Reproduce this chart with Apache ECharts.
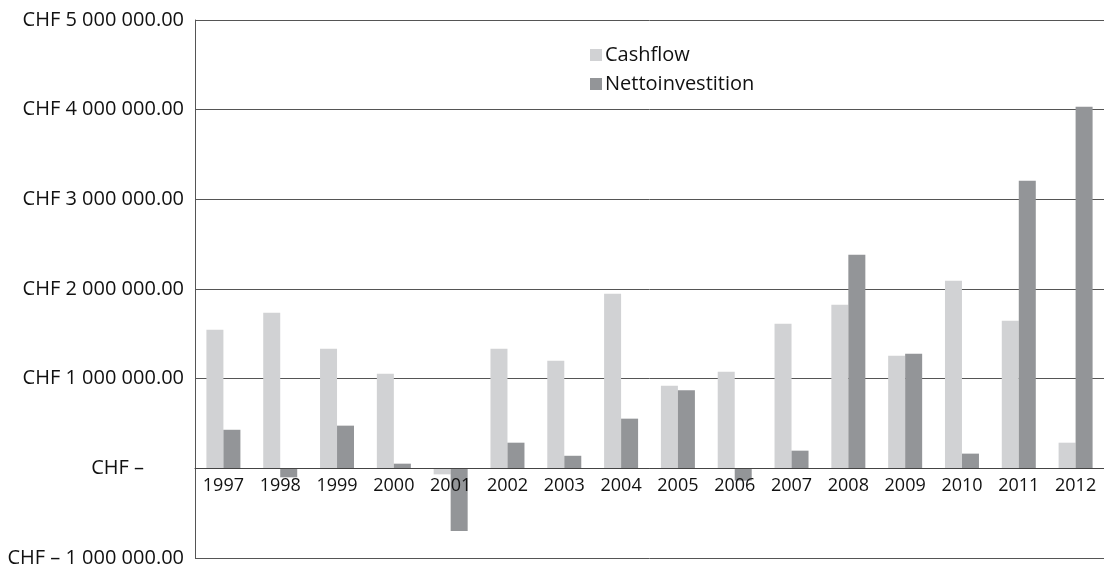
<!DOCTYPE html>
<html>
<head>
<meta charset="utf-8">
<script src="https://cdn.jsdelivr.net/npm/echarts@6/dist/echarts.min.js"></script>
<style>
html,body{margin:0;padding:0;background:#fff;}
#chart{width:1104px;height:566px;}
</style>
</head>
<body>
<div id="chart"></div>
<script>
const years = ['1997','1998','1999','2000','2001','2002','2003','2004','2005','2006','2007','2008','2009','2010','2011','2012'];
const cashflow = [1546000, 1736000, 1334000, 1056000, -67000, 1334000, 1200000, 1947000, 922000, 1078000, 1613000, 1825000, 1256000, 2093000, 1647000, 286000];
const nettoinvestition = [430000, -100000, 476000, 52000, -700000, 286000, 140000, 554000, 870000, -137000, 197000, 2382000, 1279000, 164000, 3207000, 4032000];
const seriesNames = ['Cashflow', 'Nettoinvestition'];
const yMin = -1000000, yMax = 5000000, yStep = 1000000;

function fmtCHF(v) {
  if (v === 0) return '{z|CHF –}';
  const neg = v < 0;
  const s = Math.abs(v).toFixed(0).replace(/\B(?=(\d{3})+(?!\d))/g, ' ') + '.00';
  return 'CHF ' + (neg ? '– ' : '') + s;
}

const FONT = '"Open Sans", "Noto Sans", sans-serif';
const gridTop = 20, gridBottom = 8, H = 566;
const plotH = H - gridTop - gridBottom;
const zeroOffset = plotH * (0 - yMin) / (yMax - yMin);

const chart = echarts.init(document.getElementById('chart'), null, {renderer: 'canvas'});
chart.setOption({
  animation: false,
  backgroundColor: '#fff',
  textStyle: {fontFamily: FONT, color: '#111'},
  grid: {left: 195, right: 0, top: gridTop, bottom: gridBottom, containLabel: false, outerBoundsMode: 'none'},
  legend: {
    orient: 'vertical',
    left: 585, top: 40,
    itemWidth: 12, itemHeight: 12, itemGap: 9,
    icon: 'rect',
    textStyle: {fontFamily: FONT, fontSize: 20, color: '#111', padding: [0,0,0,-2]},
    data: seriesNames
  },
  xAxis: {
    type: 'category',
    data: years,
    position: 'bottom',
    offset: -zeroOffset,
    z: 5,
    axisLine: {onZero: false, lineStyle: {color: '#444', width: 1}},
    axisTick: {show: false},
    axisLabel: {fontFamily: FONT, fontSize: 18, color: '#111', margin: 9},
    splitLine: {show: false}
  },
  yAxis: {
    type: 'value',
    min: yMin, max: yMax, interval: yStep,
    axisLine: {show: true, lineStyle: {color: '#555', width: 1}},
    axisTick: {show: false},
    splitLine: {show: true, lineStyle: {color: '#555', width: 1}},
    axisLabel: {
      fontFamily: FONT, fontSize: 20, color: '#111', margin: 11,
      formatter: fmtCHF,
      rich: {z: {fontFamily: FONT, fontSize: 20, color: '#111', padding: [0, 40, 0, 0]}}
    }
  },
  series: [
    {name: seriesNames[0], type: 'bar', data: cashflow, barWidth: 17, barGap: '0%', itemStyle: {color: '#d1d2d4'}},
    {name: seriesNames[1], type: 'bar', data: nettoinvestition, barWidth: 17, barGap: '0%', itemStyle: {color: '#939598'}}
  ]
});
</script>
</body>
</html>
